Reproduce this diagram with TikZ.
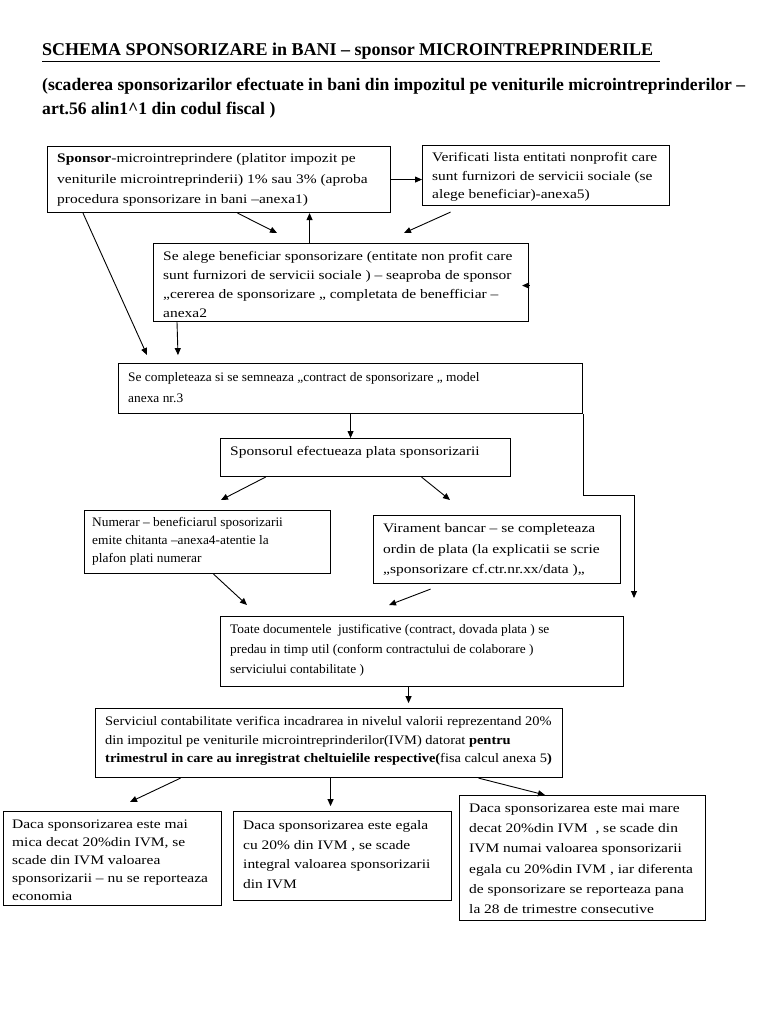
\documentclass[tikz,border=0pt]{standalone}
\usepackage{fontspec}
\setmainfont{Liberation Serif}
\newfontfamily\wideA[FakeStretch=1.19,Ligatures=TeX]{Liberation Serif}
\newfontfamily\wideB[FakeStretch=1.03,Ligatures=TeX]{Liberation Serif}
\newfontfamily\wideC[FakeStretch=1.11,Ligatures=TeX]{Liberation Serif}
\usetikzlibrary{arrows.meta}
\begin{document}
\begin{tikzpicture}[x=1pt,y=-1pt,
 bx/.style={draw, line width=1.1pt, inner sep=0pt, anchor=north west},
 tx/.style={inner sep=0pt, anchor=north west, align=left},
 ar/.style={-{Triangle[length=7pt,width=6pt]}, line width=0.9pt},
 ln/.style={line width=0.9pt}]
\useasboundingbox[fill=white] (0,0) rectangle (768,1024);

% titles
\node[inner sep=0pt, anchor=north west, font=\fontsize{18}{18}\selectfont\bfseries] (title) at (42,43)
 {SCHEMA SPONSORIZARE in BANI – sponsor MICROINTREPRINDERILE};
\draw[line width=1pt] ([yshift=-2pt]title.south west) -- ([yshift=-2pt,xshift=6pt]title.south east);
\node[inner sep=0pt, anchor=north west, align=left, font=\fontsize{17.6}{24}\selectfont\bfseries] (sub) at (42,78)
 {(scaderea sponsorizarilor efectuate in bani din impozitul pe veniturile microintreprinderilor –\\
 art.56 alin1\^{}1 din codul fiscal )};

% boxes
\node[bx, minimum width=343pt, minimum height=66pt] (b1) at (47,146) {};
\node[tx, font=\wideA\fontsize{13}{20.5}\selectfont] (t1) at (57,153.5)
 {\textbf{Sponsor}-microintreprindere (platitor impozit pe\\
 veniturile microintreprinderii) 1\% sau 3\% (aproba\\
 procedura sponsorizare in bani –anexa1)};

\node[bx, minimum width=247pt, minimum height=60pt] (b2) at (422,145) {};
\node[tx, font=\wideA\fontsize{13}{18.5}\selectfont] (t2) at (432,152.5)
 {Verificati lista entitati nonprofit care\\
 sunt furnizori de servicii sociale (se\\
 alege beneficiar)-anexa5)};

\node[bx, minimum width=375pt, minimum height=78pt] (b3) at (153,243) {};
\node[tx, font=\wideA\fontsize{13}{19}\selectfont] (t3) at (163,251.5)
 {Se alege beneficiar sponsorizare (entitate non profit care\\
 sunt furnizori de servicii sociale ) – seaproba de sponsor\\
 „cererea de sponsorizare „ completata de benefficiar –\\
 anexa2};

\node[bx, minimum width=464pt, minimum height=50pt] (b4) at (118,363) {};
\node[tx, font=\wideB\fontsize{13}{21}\selectfont] (t4) at (128,372.5)
 {Se completeaza si se semneaza „contract de sponsorizare „ model\\
 anexa nr.3};

\node[bx, minimum width=290pt, minimum height=38pt] (b5) at (220,438) {};
\node[tx, font=\wideA\fontsize{13}{19}\selectfont] (t5) at (230,446.5) {Sponsorul efectueaza plata sponsorizarii};

\node[bx, minimum width=246pt, minimum height=63pt] (b6) at (84,510) {};
\node[tx, font=\wideB\fontsize{13}{18}\selectfont] (t6) at (92,517.5)
 {Numerar – beneficiarul sposorizarii\\
 emite chitanta –anexa4-atentie la\\
 plafon plati numerar};

\node[bx, minimum width=247pt, minimum height=68pt] (b7) at (373,515) {};
\node[tx, font=\wideA\fontsize{13}{20.5}\selectfont] (t7) at (383,523.5)
 {Virament bancar – se completeaza\\
 ordin de plata (la explicatii se scrie\\
 „sponsorizare cf.ctr.nr.xx/data ),,};

\node[bx, minimum width=403pt, minimum height=70pt] (b8) at (220,616) {};
\node[tx, font=\wideB\fontsize{13}{20}\selectfont] (t8) at (230,624.5)
 {Toate documentele\ \ justificative (contract, dovada plata ) se\\
 predau in timp util (conform contractului de colaborare )\\
 serviciului contabilitate )};

\node[bx, minimum width=467pt, minimum height=69pt] (b9) at (95,708) {};
\node[tx, font=\wideC\fontsize{13}{18.5}\selectfont] (t9) at (105,716.5)
 {Serviciul contabilitate verifica incadrarea in nivelul valorii reprezentand 20\%\\
 din impozitul pe veniturile microintreprinderilor(IVM) datorat \textbf{pentru}\\
 \textbf{trimestrul in care au inregistrat cheltuielile respective(}fisa calcul anexa 5\textbf{)}};

\node[bx, minimum width=218pt, minimum height=94pt] (b10) at (3,811) {};
\node[tx, font=\wideA\fontsize{13}{18}\selectfont] (t10) at (12,819.5)
 {Daca sponsorizarea este mai\\
 mica decat 20\%din IVM, se\\
 scade din IVM valoarea\\
 sponsorizarii – nu se reporteaza\\
 economia};

\node[bx, minimum width=218pt, minimum height=89pt] (b11) at (233,811) {};
\node[tx, font=\wideA\fontsize{13}{19.5}\selectfont] (t11) at (243,820.5)
 {Daca sponsorizarea este egala\\
 cu 20\% din IVM , se scade\\
 integral valoarea sponsorizarii\\
 din IVM};

\node[bx, minimum width=246pt, minimum height=125pt] (b12) at (459,795) {};
\node[tx, font=\wideA\fontsize{13}{20.3}\selectfont] (t12) at (469,803.5)
 {Daca sponsorizarea este mai mare\\
 decat 20\%din IVM\ \ , se scade din\\
 IVM numai valoarea sponsorizarii\\
 egala cu 20\%din IVM , iar diferenta\\
 de sponsorizare se reporteaza pana\\
 la 28 de trimestre consecutive};

% free ends
\coordinate (a2) at (277,233);
\coordinate (a4) at (404,233);
\coordinate (a6) at (147,355);
\coordinate (a9) at (634,598);
\coordinate (a10l) at (221,500);
\coordinate (a10r) at (450,500);
\coordinate (a11l) at (247,605);
\coordinate (a11r) at (389,605);
\coordinate (a13l) at (130,802);

% connectors
\draw[ar] (b1.east) -- (b1.east -| b2.west);
\draw[ar] ([xshift=18.5pt]b1.south) -- (a2);
\draw[ar] ([xshift=-31.5pt]b3.north) -- ([xshift=-31.5pt]b3.north |- b1.south);
\draw[ar] ([xshift=-95.5pt,yshift=-6pt]b2.south) -- (a4);
\draw[ar] ([yshift=-3pt]b3.east) -- ++(-7,0);
\draw[ar] ([xshift=36pt]b1.south west) -- (a6);
\draw[ar] ([xshift=24pt]b3.south west) -- ++(1,33);
\draw[ar] (b4.south) -- (b4.south |- b5.north);
\draw[ar] (b4.south east) -- ++(0,81) -| (a9);
\draw[ar] ([xshift=-100pt]b5.south) -- (a10l);
\draw[ar] ([xshift=56pt]b5.south) -- (a10r);
\draw[ar] ([xshift=6pt]b6.south) -- (a11l);
\draw[ar] ([xshift=-66.5pt,yshift=-5pt]b7.south) -- (a11r);
\draw[ar] ([xshift=-13.5pt]b8.south) -- ++(0,16);
\draw[ar] ([xshift=-148.5pt]b9.south) -- (a13l);
\draw[ar] ([xshift=1.5pt]b9.south) -- ++(0,28);
\draw[ar] ([xshift=149.5pt]b9.south) -- (b12.north -| 545,0);
\end{tikzpicture}
\end{document}
